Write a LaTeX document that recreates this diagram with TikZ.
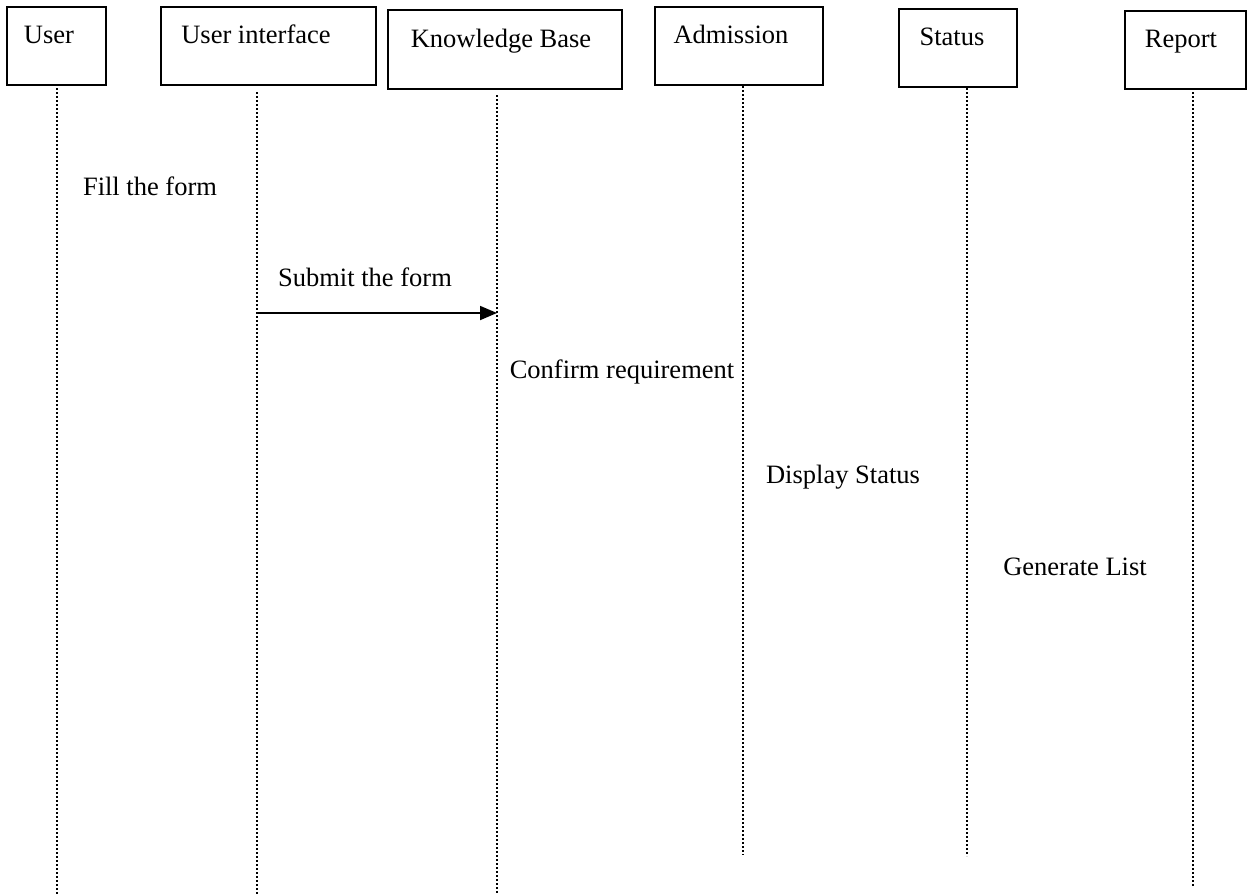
\documentclass[tikz,border=0pt]{standalone}
\usepackage{fontspec}
\setmainfont{Liberation Serif}
\usetikzlibrary{arrows.meta}
\tikzset{
  box/.style={draw, line width=1.8pt, rectangle, inner sep=0pt, outer sep=0pt},
  lbl/.style={anchor=base, inner sep=0pt, font=\fontsize{26.5}{30}\selectfont},
  life/.style={line width=1.6pt, dash pattern=on 1.6pt off 2.4pt},
  msg/.style={line width=1.8pt, -{Triangle[length=17pt,width=14pt]}}
}
\begin{document}
\begin{tikzpicture}[x=1pt,y=-1pt]
\useasboundingbox (0,0) rectangle (1248,894);
% actor boxes
\node[box, minimum width=99pt, minimum height=78pt] (user) at (56.5,46) {};
\node[box, minimum width=215pt, minimum height=78pt] (ui) at (268.5,46) {};
\node[box, minimum width=234pt, minimum height=79pt] (kb) at (505,49.5) {};
\node[box, minimum width=168pt, minimum height=78pt] (adm) at (739,46) {};
\node[box, minimum width=118pt, minimum height=78pt] (stat) at (958,48) {};
\node[box, minimum width=121pt, minimum height=78pt] (rep) at (1185.5,50) {};
% box titles
\node[lbl] (userT) at (49,43) {User};
\node[lbl] (uiT) at (256,43) {User interface};
\node[lbl] (kbT) at (501,47) {Knowledge Base};
\node[lbl] (admT) at (731,43) {Admission};
\node[lbl] (statT) at (952,45) {Status};
\node[lbl] (repT) at (1181,47) {Report};
% lifeline end points
\coordinate (l1a) at (57,88);   \coordinate (l1b) at (57,894);
\coordinate (l2a) at (257,92);  \coordinate (l2b) at (257,894);
\coordinate (l3a) at (497,95);  \coordinate (l3b) at (497,894);
\coordinate (l4a) at (743,86);  \coordinate (l4b) at (743,855);
\coordinate (l5a) at (967,88);  \coordinate (l5b) at (967,856);
\coordinate (l6a) at (1193,92); \coordinate (l6b) at (1193,886);
\draw[life] (l1a) -- (l1b);
\draw[life] (l2a) -- (l2b);
\draw[life] (l3a) -- (l3b);
\draw[life] (l4a) -- (l4b);
\draw[life] (l5a) -- (l5b);
\draw[life] (l6a) -- (l6b);
% message
\coordinate (m1a) at (257,313);
\coordinate (m1b) at (497,313);
\draw[msg] (m1a) -- (m1b);
% labels
\node[lbl] (fill) at (150,195) {Fill the form};
\node[lbl] (submit) at (365,286) {Submit the form};
\node[lbl] (confirm) at (622,378) {Confirm requirement};
\node[lbl] (display) at (843,483) {Display Status};
\node[lbl] (gen) at (1075,575) {Generate List};
\end{tikzpicture}
\end{document}
